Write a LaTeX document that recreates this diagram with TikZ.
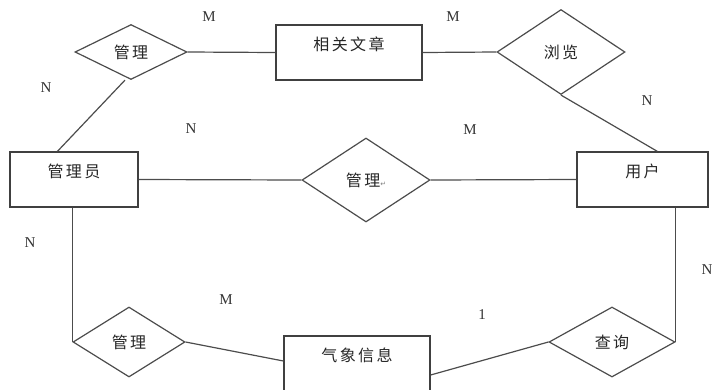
\documentclass[tikz,border=0pt]{standalone}
\usepackage{fontspec}
\setmainfont{Liberation Serif}
\newfontfamily\cjk[LetterSpace=15]{Noto Sans CJK SC}
\newfontfamily\symfont{DejaVu Sans}
\usetikzlibrary{shapes.geometric}

\begin{document}
\begin{tikzpicture}[x=1pt,y=-1pt,
  line width=1.2pt,
  ent/.style={draw=black!75,rectangle,minimum width=#1,minimum height=55pt,inner sep=0pt,text depth=18pt,font=\cjk\fontsize{16}{18}\selectfont,text=black!85},
  rel/.style={draw=black!70,diamond,inner sep=0pt,font=\cjk\fontsize{16}{18}\selectfont,text=black!85},
  card/.style={font=\fontsize{15}{17}\selectfont,text=black!80},
  conn/.style={draw=black!70}]
  \useasboundingbox (0,0) rectangle (715,389);
  \clip (0,0) rectangle (715,389);

  \node[rel,minimum width=112pt,minimum height=55pt] (relA) at (131,52) {管理};
  \node[ent=146pt] (article) at (349,52.5) {相关文章};
  \node[rel,minimum width=128pt,minimum height=85pt] (browse) at (561,52) {浏览};
  \node[ent=128pt] (admin) at (74,179.5) {管理员};
  \node[rel,minimum width=128pt,minimum height=84pt] (relB) at (366,180) {管理{\symfont\fontsize{7}{8}\selectfont\color{black!50}↵}};
  \node[ent=131pt] (user) at (642.5,179.5) {用户};
  \node[rel,minimum width=112pt,minimum height=70pt] (relC) at (129,342) {管理};
  \node[ent=146pt,minimum height=56pt] (weather) at (357,364) {气象信息};
  \node[rel,minimum width=126pt,minimum height=70pt] (query) at (612,342) {查询};

  \draw[conn] (relA.east) -- (article.west);
  \draw[conn] (article.east) -- (browse.west);
  \draw[conn] (browse.south) -- ([xshift=81pt]user.north west);
  \draw[conn] ([xshift=48pt]admin.north west) -- ([xshift=-6pt]relA.south);
  \draw[conn] (admin.east) -- (relB.west);
  \draw[conn] (relB.east) -- (user.west);
  \draw[conn] (relC.west |- admin.south) -- (relC.west);
  \draw[conn] (relC.east) -- ([yshift=3pt]weather.west);
  \draw[conn] ([yshift=-11pt]weather.east) -- (query.west);
  \draw[conn] (query.east |- user.south) -- (query.east);

  \node[card] (mA) at (209,17) {M};
  \node[card] (mB) at (453,17) {M};
  \node[card] (nA) at (46,88) {N};
  \node[card] (nB) at (191,129) {N};
  \node[card] (mC) at (470,130) {M};
  \node[card] (nC) at (647,101) {N};
  \node[card] (nD) at (30,243) {N};
  \node[card] (mD) at (226,300) {M};
  \node[card] (one) at (482,315) {1};
  \node[card] (nE) at (707,270) {N};
\end{tikzpicture}
\end{document}
